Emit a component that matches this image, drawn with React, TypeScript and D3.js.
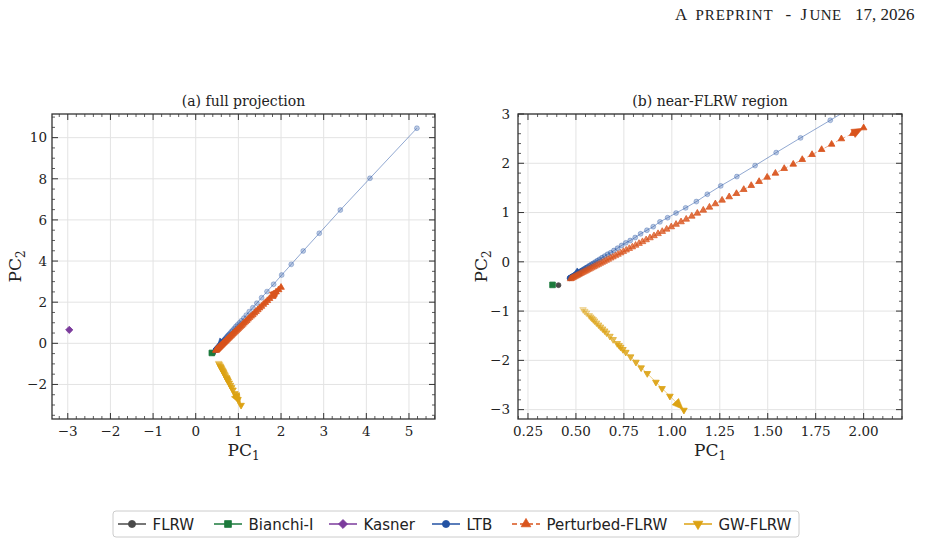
import React from 'react';
import * as d3 from 'd3';

// ---------------- data ----------------
const FLRW_X = [0.409];
const FLRW_Y = [-0.474];
const BIANCHI_X = [0.378];
const BIANCHI_Y = [-0.468];
const KASNER_X = [-2.965];
const KASNER_Y = [0.655];

const LTB_X = [5.186, 4.085, 3.39, 2.897, 2.52, 2.24, 2.015, 1.826, 1.671, 1.544, 1.434, 1.339, 1.255, 1.185, 1.128, 1.072, 1.022, 0.978, 0.938, 0.903, 0.87, 0.837, 0.809, 0.783, 0.76, 0.738, 0.717, 0.698, 0.681, 0.665, 0.65, 0.636, 0.623, 0.611, 0.6, 0.589, 0.579, 0.57, 0.561, 0.553, 0.545, 0.538, 0.531, 0.525, 0.519, 0.513, 0.508, 0.503, 0.498, 0.494, 0.49, 0.486, 0.483, 0.48, 0.477, 0.475, 0.473, 0.471, 0.469, 0.467];
const LTB_Y = [10.46, 8.025, 6.48, 5.35, 4.49, 3.84, 3.32, 2.872, 2.515, 2.217, 1.953, 1.73, 1.541, 1.371, 1.223, 1.095, 0.99, 0.895, 0.811, 0.713, 0.641, 0.568, 0.493, 0.432, 0.385, 0.331, 0.276, 0.229, 0.183, 0.153, 0.116, 0.082, 0.05, 0.02, -0.007, -0.034, -0.058, -0.08, -0.102, -0.122, -0.141, -0.159, -0.176, -0.19, -0.205, -0.22, -0.232, -0.244, -0.257, -0.266, -0.276, -0.286, -0.293, -0.301, -0.308, -0.313, -0.318, -0.323, -0.328, -0.333];

const PERT_X = [0.471, 0.473, 0.475, 0.478, 0.481, 0.484, 0.487, 0.49, 0.494, 0.498, 0.502, 0.506, 0.51, 0.515, 0.52, 0.525, 0.53, 0.536, 0.542, 0.548, 0.554, 0.561, 0.568, 0.575, 0.583, 0.591, 0.599, 0.608, 0.617, 0.627, 0.637, 0.647, 0.658, 0.669, 0.681, 0.693, 0.706, 0.719, 0.733, 0.747, 0.762, 0.778, 0.794, 0.811, 0.829, 0.847, 0.866, 0.886, 0.907, 0.928, 0.95, 0.973, 0.997, 1.022, 1.048, 1.075, 1.104, 1.133, 1.164, 1.196, 1.227, 1.262, 1.299, 1.337, 1.375, 1.414, 1.455, 1.497, 1.54, 1.586, 1.633, 1.68, 1.731, 1.781, 1.833, 1.884, 1.943, 2.0];
const PERT_Y = [-0.348, -0.344, -0.34, -0.334, -0.328, -0.322, -0.316, -0.31, -0.302, -0.294, -0.286, -0.278, -0.27, -0.26, -0.249, -0.239, -0.229, -0.217, -0.205, -0.193, -0.181, -0.167, -0.153, -0.139, -0.123, -0.107, -0.091, -0.073, -0.055, -0.034, -0.014, 0.006, 0.028, 0.05, 0.074, 0.098, 0.124, 0.15, 0.179, 0.207, 0.237, 0.269, 0.301, 0.335, 0.372, 0.408, 0.446, 0.486, 0.528, 0.571, 0.615, 0.661, 0.709, 0.76, 0.811, 0.864, 0.925, 0.986, 1.047, 1.108, 1.176, 1.25, 1.318, 1.385, 1.467, 1.548, 1.629, 1.716, 1.797, 1.893, 1.98, 2.075, 2.176, 2.278, 2.385, 2.495, 2.602, 2.718];

const GW_X = [0.537, 0.546, 0.555, 0.569, 0.576, 0.583, 0.59, 0.597, 0.607, 0.618, 0.628, 0.639, 0.65, 0.66, 0.677, 0.694, 0.715, 0.725, 0.733, 0.745, 0.76, 0.785, 0.813, 0.84, 0.872, 0.917, 0.949, 0.99, 1.063];
const GW_Y = [-0.968, -1.002, -1.035, -1.089, -1.116, -1.143, -1.17, -1.198, -1.238, -1.279, -1.32, -1.36, -1.4, -1.441, -1.509, -1.576, -1.657, -1.695, -1.732, -1.778, -1.834, -1.927, -2.036, -2.15, -2.266, -2.442, -2.57, -2.726, -3.01];

const SERIES_NAMES = ['FLRW', 'Bianchi-I', 'Kasner', 'LTB', 'Perturbed-FLRW', 'GW-FLRW'];
const SERIES_COLORS = ['#4a4a4a', '#1c7a3c', '#7b3b9c', '#2352a3', '#d9541d', '#dca213'];
const SERIES_SHAPES = ['circle', 'square', 'diamond', 'circle', 'triUp', 'triDown'];
const SERIES_DASHED = [false, false, false, false, true, false];
const SERIES_XS = [FLRW_X, BIANCHI_X, KASNER_X, LTB_X, PERT_X, GW_X];
const SERIES_YS = [FLRW_Y, BIANCHI_Y, KASNER_Y, LTB_Y, PERT_Y, GW_Y];
const SERIES_FADE = [1, 1, 1, 3, 1, 1];

const X_TICKS_A = [-3, -2, -1, 0, 1, 2, 3, 4, 5];
const Y_TICKS_A = [-2, 0, 2, 4, 6, 8, 10];
const X_TICKS_B = [0.25, 0.5, 0.75, 1.0, 1.25, 1.5, 1.75, 2.0];
const Y_TICKS_B = [-3, -2, -1, 0, 1, 2, 3];

const SERIF = "'DejaVu Serif', serif";
const SANS = "'DejaVu Sans', sans-serif";
const AX = '#333333';

const SYM: Record<string, any> = {
  circle: d3.symbolCircle,
  square: d3.symbolSquare,
  diamond: d3.symbolSquare,
  triUp: d3.symbolTriangle,
  triDown: d3.symbolTriangle,
};
const SYM_SIZE: Record<string, number> = { circle: 19, square: 32, diamond: 26, triUp: 19, triDown: 19 };
const SYM_ROT: Record<string, number> = { circle: 0, square: 0, diamond: 45, triUp: 0, triDown: 180 };

function symPath(shape: string, size: number) {
  return d3.symbol().type(SYM[shape]).size(size)() as string;
}

const fmtInt = (v: number) => (v < 0 ? '\u2212' + Math.abs(v) : String(v));
const fmt2 = (v: number) => v.toFixed(2);

function minorRange(domain: number[], step: number, majors: number[]) {
  const a = Math.ceil(domain[0] / step - 1e-9);
  const b = Math.floor(domain[1] / step + 1e-9);
  return d3.range(a, b + 1)
    .map((k) => k * step)
    .filter((v) => !majors.some((t) => Math.abs(t - v) < 1e-6));
}

type PanelProps = {
  pid: string;
  left: number; right: number; top: number; bottom: number;
  xDomain: number[]; yDomain: number[];
  xTicks: number[]; yTicks: number[];
  xMinor: number; yMinor: number;
  fmtX: (v: number) => string; fmtY: (v: number) => string;
  title: string;
  yLabelX: number;
  yTickPad: number;
};

function Panel(p: PanelProps) {
  const x = d3.scaleLinear().domain(p.xDomain).range([p.left, p.right]);
  const y = d3.scaleLinear().domain(p.yDomain).range([p.bottom, p.top]);
  const minX = minorRange(p.xDomain, p.xMinor, p.xTicks);
  const minY = minorRange(p.yDomain, p.yMinor, p.yTicks);
  const cx = (p.left + p.right) / 2;
  const cy = (p.top + p.bottom) / 2;
  const clipId = 'clip-' + p.pid;

  const seriesEls = SERIES_NAMES.map((name, si) => {
    const xs = SERIES_XS[si];
    const ys = SERIES_YS[si];
    const color = SERIES_COLORS[si];
    const shape = SERIES_SHAPES[si];
    const n = xs.length;
    const pts = xs.map((v, i) => [x(v), y(ys[i])] as [number, number]);
    const line = d3.line()(pts) as string;
    const path = symPath(shape, SYM_SIZE[shape]);
    const els: any[] = [];
    if (n > 1) {
      els.push(
        <path key="l" d={line} fill="none" stroke={color} strokeOpacity={0.5} strokeWidth={1}
          strokeDasharray={SERIES_DASHED[si] ? '4,2.5' : undefined} />
      );
    }
    pts.forEach((pt, i) => {
      const t = n === 1 ? 1 : i / (n - 1);
      const a = n === 1 ? 1 : 0.3 + 0.7 * Math.pow(t, SERIES_FADE[si]);
      els.push(
        <path key={'m' + i} d={path}
          transform={`translate(${pt[0]},${pt[1]}) rotate(${SYM_ROT[shape]})`}
          fill={color} fillOpacity={a} stroke={color} strokeOpacity={Math.min(1, a + 0.1)} strokeWidth={0.8} />
      );
    });
    if (n > 1) {
      const pa = pts[n - 2];
      const pb = pts[n - 1];
      const dx = pb[0] - pa[0];
      const dy = pb[1] - pa[1];
      const len = Math.hypot(dx, dy) || 1;
      const ux = dx / len, uy = dy / len;
      const tip = [pb[0] - ux * 1, pb[1] - uy * 1];
      const base = [tip[0] - ux * 11, tip[1] - uy * 11];
      const w = 4.5;
      const poly = [
        [tip[0], tip[1]],
        [base[0] - uy * w, base[1] + ux * w],
        [base[0] + uy * w, base[1] - ux * w],
      ].map((q) => q.join(',')).join(' ');
      els.push(<polygon key="arrow" points={poly} fill={color} stroke={color} strokeWidth={0.6} />);
    }
    return <g key={name}>{els}</g>;
  });

  return (
    <g>
      <defs>
        <clipPath id={clipId}>
          <rect x={p.left} y={p.top} width={p.right - p.left} height={p.bottom - p.top} />
        </clipPath>
      </defs>
      {p.xTicks.map((t) => (
        <line key={'gx' + t} x1={x(t)} x2={x(t)} y1={p.top} y2={p.bottom} stroke="#e3e3e3" strokeWidth={1} />
      ))}
      {p.yTicks.map((t) => (
        <line key={'gy' + t} x1={p.left} x2={p.right} y1={y(t)} y2={y(t)} stroke="#e3e3e3" strokeWidth={1} />
      ))}
      <g clipPath={`url(#${clipId})`}>{seriesEls}</g>
      <rect x={p.left} y={p.top} width={p.right - p.left} height={p.bottom - p.top} fill="none" stroke={AX} strokeWidth={1.3} />
      {p.xTicks.map((t) => (
        <g key={'tx' + t}>
          <line x1={x(t)} x2={x(t)} y1={p.bottom} y2={p.bottom - 6} stroke={AX} strokeWidth={1} />
          <line x1={x(t)} x2={x(t)} y1={p.top} y2={p.top + 6} stroke={AX} strokeWidth={1} />
          <text x={x(t)} y={p.bottom + 17} textAnchor="middle" fontFamily={SERIF} fontSize={13.5} fill="#222">{p.fmtX(t)}</text>
        </g>
      ))}
      {minX.map((t) => (
        <g key={'mx' + t}>
          <line x1={x(t)} x2={x(t)} y1={p.bottom} y2={p.bottom - 3} stroke={AX} strokeWidth={0.8} />
          <line x1={x(t)} x2={x(t)} y1={p.top} y2={p.top + 3} stroke={AX} strokeWidth={0.8} />
        </g>
      ))}
      {p.yTicks.map((t) => (
        <g key={'ty' + t}>
          <line x1={p.left} x2={p.left + 6} y1={y(t)} y2={y(t)} stroke={AX} strokeWidth={1} />
          <line x1={p.right} x2={p.right - 6} y1={y(t)} y2={y(t)} stroke={AX} strokeWidth={1} />
          <text x={p.left - p.yTickPad} y={y(t) + 4.8} textAnchor="end" fontFamily={SERIF} fontSize={13.5} fill="#222">{p.fmtY(t)}</text>
        </g>
      ))}
      {minY.map((t) => (
        <g key={'my' + t}>
          <line x1={p.left} x2={p.left + 3} y1={y(t)} y2={y(t)} stroke={AX} strokeWidth={0.8} />
          <line x1={p.right} x2={p.right - 3} y1={y(t)} y2={y(t)} stroke={AX} strokeWidth={0.8} />
        </g>
      ))}
      <text x={cx} y={p.top - 8} textAnchor="middle" fontFamily={SERIF} fontSize={14} fill="#222">{p.title}</text>
      <text x={cx} y={p.bottom + 37} textAnchor="middle" fontFamily={SERIF} fontSize={17} fill="#222">
        PC<tspan fontSize={12} dy={4}>1</tspan>
      </text>
      <text transform={`translate(${p.yLabelX},${cy}) rotate(-90)`} textAnchor="middle" fontFamily={SERIF} fontSize={17} fill="#222">
        PC<tspan fontSize={12} dy={4}>2</tspan>
      </text>
    </g>
  );
}

const LEGEND_HANDLE_X = [118, 214, 329, 432, 512, 684];

function Legend() {
  const cy = 524;
  return (
    <g>
      <rect x={113} y={511} width={686} height={26} rx={3} fill="#fff" stroke="#cccccc" strokeWidth={1} />
      {SERIES_NAMES.map((name, i) => {
        const hx = LEGEND_HANDLE_X[i];
        const color = SERIES_COLORS[i];
        const shape = SERIES_SHAPES[i];
        const path = symPath(shape, shape === 'square' ? 46 : 40);
        return (
          <g key={name}>
            <line x1={hx} x2={hx + 28} y1={cy} y2={cy} stroke={color} strokeWidth={1.5}
              strokeDasharray={SERIES_DASHED[i] ? '5,3' : undefined} />
            <path d={path} transform={`translate(${hx + 14},${cy}) rotate(${SYM_ROT[shape]})`} fill={color} stroke={color} strokeWidth={0.8} />
            <text x={hx + 34.5} y={cy + 5.5} fontFamily={SANS} fontSize={15} fill="#222">{name}</text>
          </g>
        );
      })}
    </g>
  );
}

export default function App() {
  const hdr = "'Liberation Serif', serif";
  return (
    <svg width={926} height={544} style={{ position: 'absolute', left: 0, top: 0, background: '#fff' }}>
      <rect x={0} y={0} width={926} height={544} fill="#fff" />
      <text y={20} fontFamily={hdr} fontSize={17} fill="#222">
        <tspan x={675}>A</tspan>
        <tspan x={695.5} fontSize={15} letterSpacing={0.9}>PREPRINT</tspan>
        <tspan x={785.5}>-</tspan>
        <tspan x={800.5}>J</tspan>
        <tspan x={809.5} fontSize={15} letterSpacing={0.4}>UNE</tspan>
        <tspan x={855}>17, 2026</tspan>
      </text>
      <Panel pid="a" left={52} right={435} top={114} bottom={419}
        xDomain={[-3.37, 5.61]} yDomain={[-3.68, 11.15]}
        xTicks={X_TICKS_A} yTicks={Y_TICKS_A} xMinor={0.2} yMinor={0.5}
        fmtX={fmtInt} fmtY={fmtInt} title="(a) full projection" yLabelX={21} yTickPad={5} />
      <Panel pid="b" left={518} right={902} top={114} bottom={419}
        xDomain={[0.198, 2.2]} yDomain={[-3.19, 3.0]}
        xTicks={X_TICKS_B} yTicks={Y_TICKS_B} xMinor={0.05} yMinor={0.2}
        fmtX={fmt2} fmtY={fmtInt} title="(b) near-FLRW region" yLabelX={487} yTickPad={8} />
      <Legend />
    </svg>
  );
}
